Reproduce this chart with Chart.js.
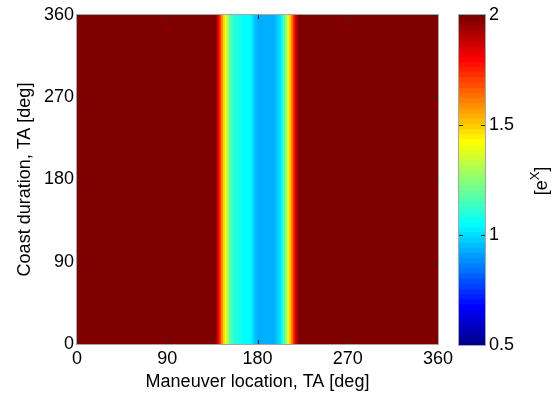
<!DOCTYPE html>
<html>
<head>
<meta charset="utf-8">
<script src="https://cdn.jsdelivr.net/npm/chart.js@4.4.1/dist/chart.umd.min.js"></script>
<style>
  body { margin: 0; background: #fff; }
  #wrap { position: relative; width: 554px; height: 398px; }
  canvas { position: absolute; top: 0; }
</style>
</head>
<body>
<div id="wrap">
  <canvas id="heat" width="554" height="398" style="left:0"></canvas>
  <canvas id="cbar" width="114" height="398" style="left:440px"></canvas>
</div>
<script>
// column centres, maneuver location TA [deg] (2 deg cells)
const maneuverLocation = [
  1, 3, 5, 7, 9, 11, 13, 15, 17, 19, 21, 23, 25, 27, 29, 31, 33, 35, 37, 39,
  41, 43, 45, 47, 49, 51, 53, 55, 57, 59, 61, 63, 65, 67, 69, 71, 73, 75, 77, 79,
  81, 83, 85, 87, 89, 91, 93, 95, 97, 99, 101, 103, 105, 107, 109, 111, 113, 115, 117, 119,
  121, 123, 125, 127, 129, 131, 133, 135, 137, 139, 141, 143, 145, 147, 149, 151, 153, 155, 157, 159,
  161, 163, 165, 167, 169, 171, 173, 175, 177, 179, 181, 183, 185, 187, 189, 191, 193, 195, 197, 199,
  201, 203, 205, 207, 209, 211, 213, 215, 217, 219, 221, 223, 225, 227, 229, 231, 233, 235, 237, 239,
  241, 243, 245, 247, 249, 251, 253, 255, 257, 259, 261, 263, 265, 267, 269, 271, 273, 275, 277, 279,
  281, 283, 285, 287, 289, 291, 293, 295, 297, 299, 301, 303, 305, 307, 309, 311, 313, 315, 317, 319,
  321, 323, 325, 327, 329, 331, 333, 335, 337, 339, 341, 343, 345, 347, 349, 351, 353, 355, 357, 359
];
// value shown in each column (same for every coast duration), clipped at 2
const costValue = [
  2, 2, 2, 2, 2, 2, 2, 2, 2, 2, 2, 2, 2, 2, 2, 2, 2, 2, 2, 2,
  2, 2, 2, 2, 2, 2, 2, 2, 2, 2, 2, 2, 2, 2, 2, 2, 2, 2, 2, 2,
  2, 2, 2, 2, 2, 2, 2, 2, 2, 2, 2, 2, 2, 2, 2, 2, 2, 2, 2, 2,
  2, 2, 2, 2, 2, 2, 2, 2, 2, 2, 1.88, 1.75, 1.62, 1.5, 1.4, 1.3, 1.2, 1.14, 1.11, 1.1,
  1.09, 1.08, 1.07, 1.06, 1.06, 1.05, 1.04, 1.02, 0.99, 0.96, 0.94, 0.93, 0.93, 0.93, 0.93, 0.93, 0.93, 0.93, 0.94, 0.95,
  0.97, 1.01, 1.07, 1.15, 1.25, 1.38, 1.5, 1.62, 1.75, 1.87, 1.96, 2, 2, 2, 2, 2, 2, 2, 2, 2,
  2, 2, 2, 2, 2, 2, 2, 2, 2, 2, 2, 2, 2, 2, 2, 2, 2, 2, 2, 2,
  2, 2, 2, 2, 2, 2, 2, 2, 2, 2, 2, 2, 2, 2, 2, 2, 2, 2, 2, 2,
  2, 2, 2, 2, 2, 2, 2, 2, 2, 2, 2, 2, 2, 2, 2, 2, 2, 2, 2, 2
];
const coastDuration = [0, 360];
const axisTicks = [0, 90, 180, 270, 360];
const colorLimits = [0.5, 2];
const colorTicks = [0.5, 1, 1.5, 2];

const FONT = { family: "'Liberation Sans', Arial, sans-serif", size: 18 };

// matlab style jet(64)
const jet = (m) => {
  const n = Math.ceil(m / 4);
  const u = [];
  for (let i = 1; i <= n; i++) u.push(i / n);
  for (let i = 1; i < n; i++) u.push(1);
  for (let i = n; i >= 1; i--) u.push(i / n);
  const g0 = Math.ceil(n / 2) - (m % 4 === 1 ? 1 : 0);
  const J = Array.from({ length: m }, () => [0, 0, 0]);
  u.forEach((v, k) => {
    const g = g0 + k + 1, r = g + n, b = g - n;
    if (r >= 1 && r <= m) J[r - 1][0] = v;
    if (g >= 1 && g <= m) J[g - 1][1] = v;
    if (b >= 1 && b <= m) J[b - 1][2] = v;
  });
  return J.map(c => `rgb(${Math.round(c[0] * 255)},${Math.round(c[1] * 255)},${Math.round(c[2] * 255)})`);
};
const cmap = jet(64);
const colorFor = (v) => {
  const t = (v - colorLimits[0]) / (colorLimits[1] - colorLimits[0]);
  return cmap[Math.max(0, Math.min(63, Math.floor(t * 64)))];
};

// frame + inward ticks like matlab
const framePlugin = {
  id: 'frame',
  afterDraw(chart, args, opts) {
    const { ctx, chartArea: a } = chart;
    ctx.save();
    ctx.strokeStyle = '#262626';
    ctx.lineWidth = 1;
    const len = 4;
    (opts.xTicks || []).forEach(t => {
      const px = Math.round(chart.scales.x.getPixelForValue(t)) + 0.5;
      ctx.beginPath();
      ctx.moveTo(px, a.bottom); ctx.lineTo(px, a.bottom - len);
      ctx.moveTo(px, a.top); ctx.lineTo(px, a.top + len);
      ctx.stroke();
    });
    (opts.yTicks || []).forEach(t => {
      const py = Math.round(chart.scales.y.getPixelForValue(t)) + 0.5;
      ctx.beginPath();
      ctx.moveTo(a.left, py); ctx.lineTo(a.left + len, py);
      ctx.moveTo(a.right, py); ctx.lineTo(a.right - len, py);
      ctx.stroke();
    });
    ctx.strokeStyle = '#a6a6a6';
    ctx.strokeRect(Math.round(a.left) - 0.5, Math.round(a.top) - 0.5,
      Math.round(a.right - a.left) + 1, Math.round(a.bottom - a.top) + 1);
    ctx.restore();
  }
};

const cells = maneuverLocation.map(x => ({ x: x, y: coastDuration }));

new Chart(document.getElementById('heat'), {
  type: 'bar',
  data: {
    datasets: [{
      data: cells,
      backgroundColor: costValue.map(colorFor),
      borderWidth: 0,
      inflateAmount: 0.7,
      barPercentage: 1,
      categoryPercentage: 1
    }]
  },
  options: {
    responsive: false,
    animation: false,
    events: [],
    layout: { padding: { top: 15, right: 116, bottom: 0, left: 0 } },
    plugins: {
      legend: { display: false },
      tooltip: { enabled: false },
      frame: { xTicks: axisTicks, yTicks: axisTicks }
    },
    scales: {
      x: {
        type: 'linear', min: 0, max: 360, offset: false,
        afterBuildTicks: s => { s.ticks = axisTicks.map(v => ({ value: v })); },
        afterFit: s => { s.height = 54; },
        ticks: { font: FONT, color: '#000', padding: 4, maxRotation: 0 },
        grid: { display: false, drawTicks: false, offset: false },
        border: { display: false },
        title: { display: true, text: 'Maneuver location, TA [deg]', font: FONT, color: '#000', padding: { top: 0, bottom: 5 } }
      },
      y: {
        min: 0, max: 360,
        afterBuildTicks: s => { s.ticks = axisTicks.map(v => ({ value: v })); },
        afterFit: s => { s.width = 77; },
        ticks: { font: FONT, color: '#000', padding: 3 },
        grid: { display: false, drawTicks: false },
        border: { display: false },
        title: { display: true, text: 'Coast duration, TA [deg]', font: FONT, color: '#000', padding: { top: 14, bottom: 0 } }
      }
    }
  },
  plugins: [framePlugin]
});

// colour bar
const levels = cmap.map((c, i) => colorLimits[0] + (i + 0.5) * (colorLimits[1] - colorLimits[0]) / cmap.length);

const cbarTitle = {
  id: 'cbarTitle',
  afterDraw(chart) {
    const { ctx } = chart;
    ctx.save();
    ctx.translate(101, 181);
    ctx.rotate(-Math.PI / 2);
    ctx.fillStyle = '#000';
    ctx.textBaseline = 'alphabetic';
    const big = "18px 'Liberation Sans', Arial, sans-serif";
    const small = "13px 'Liberation Sans', Arial, sans-serif";
    ctx.font = big;
    const w1 = ctx.measureText('[e').width;
    const w3 = ctx.measureText(']').width;
    ctx.font = small;
    const w2 = ctx.measureText('X').width;
    let x = -(w1 + w2 + w3) / 2;
    const base = 6;
    ctx.font = big; ctx.fillText('[e', x, base); x += w1;
    ctx.font = small; ctx.fillText('X', x, base - 8); x += w2;
    ctx.font = big; ctx.fillText(']', x, base);
    ctx.restore();
  }
};

new Chart(document.getElementById('cbar'), {
  type: 'bar',
  data: {
    datasets: [{
      data: levels.map(v => ({ y: v, x: [0, 1] })),
      backgroundColor: cmap,
      borderWidth: 0,
      inflateAmount: 0.7,
      barPercentage: 1,
      categoryPercentage: 1
    }]
  },
  options: {
    indexAxis: 'y',
    responsive: false,
    animation: false,
    events: [],
    layout: { padding: { top: 15, right: 0, bottom: 53, left: 19 } },
    plugins: {
      legend: { display: false },
      tooltip: { enabled: false },
      frame: { xTicks: [], yTicks: colorTicks }
    },
    scales: {
      x: { type: 'linear', min: 0, max: 1, display: false, offset: false },
      y: {
        type: 'linear', position: 'right', min: colorLimits[0], max: colorLimits[1], offset: false,
        afterBuildTicks: s => { s.ticks = colorTicks.map(v => ({ value: v })); },
        afterFit: s => { s.width = 69; },
        ticks: { font: FONT, color: '#000', padding: 4, callback: v => String(v) },
        grid: { display: false, drawTicks: false, offset: false },
        border: { display: false }
      }
    }
  },
  plugins: [framePlugin, cbarTitle]
});
</script>
</body>
</html>
